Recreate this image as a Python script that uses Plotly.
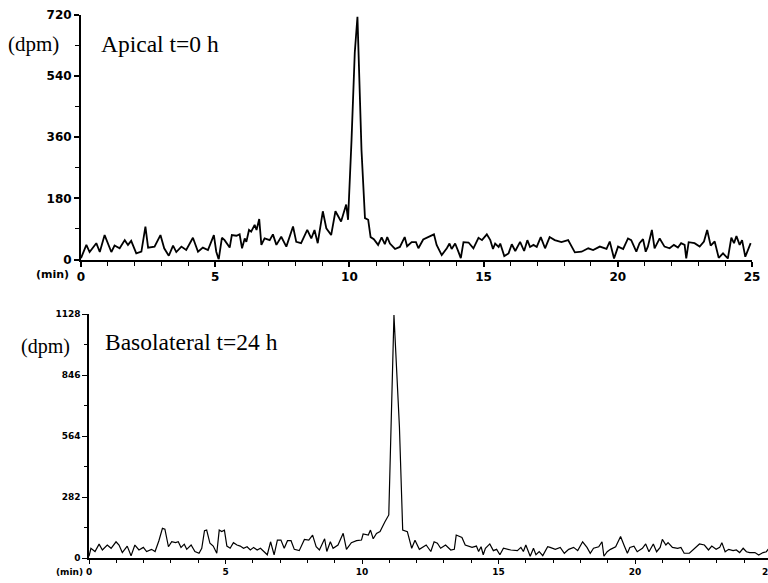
import plotly.graph_objects as go

# ---------------- data ----------------
top_time = [0.0, 0.2, 0.32, 0.57, 0.7, 0.88, 1.13, 1.25, 1.44, 1.63, 1.75, 1.87, 2.06, 2.25, 2.4, 2.5,
            2.74, 2.96, 3.1, 3.27, 3.43, 3.55, 3.74, 3.92, 4.17, 4.36, 4.54, 4.73, 4.95, 5.04, 5.13,
            5.25, 5.35, 5.54, 5.62, 5.79, 5.91, 6.0, 6.1, 6.16, 6.26, 6.34, 6.47, 6.54, 6.64, 6.72,
            6.84, 7.03, 7.15, 7.28, 7.46, 7.65, 7.9, 8.02, 8.2, 8.43, 8.58, 8.7, 8.82, 9.01, 9.14,
            9.32, 9.48, 9.69, 9.88, 9.95, 10.08, 10.2, 10.3, 10.37, 10.45, 10.58, 10.7, 10.79, 10.91,
            11.07, 11.2, 11.32, 11.41, 11.51, 11.7, 11.88, 12.06, 12.15, 12.32, 12.48, 12.57, 12.75,
            12.94, 13.15, 13.25, 13.44, 13.63, 13.73, 13.81, 13.94, 14.06, 14.15, 14.25, 14.44, 14.62,
            14.81, 14.94, 15.12, 15.25, 15.35, 15.43, 15.56, 15.62, 15.77, 15.93, 16.05, 16.18, 16.36,
            16.51, 16.63, 16.73, 16.86, 16.98, 17.13, 17.29, 17.46, 17.65, 17.9, 18.15, 18.4, 18.65,
            18.9, 19.08, 19.33, 19.58, 19.7, 19.86, 20.01, 20.2, 20.38, 20.5, 20.69, 20.81, 20.94,
            21.04, 21.12, 21.27, 21.37, 21.56, 21.74, 21.93, 22.09, 22.24, 22.36, 22.49, 22.55, 22.64,
            22.86, 23.05, 23.21, 23.33, 23.46, 23.61, 23.76, 23.92, 24.1, 24.23, 24.33, 24.42, 24.54,
            24.63, 24.75, 24.95]
top_dpm = [4, 43, 22, 48, 22, 72, 22, 41, 33, 57, 43, 55, 18, 23, 97, 35,
           38, 72, 33, 11, 41, 22, 38, 28, 64, 23, 35, 28, 72, 23, 0,
           64, 57, 35, 72, 70, 74, 33, 62, 52, 87, 82, 102, 87, 119, 43,
           62, 57, 74, 43, 67, 38, 97, 52, 48, 87, 62, 87, 48, 142, 92,
           72, 142, 112, 162, 117, 353, 609, 715, 550, 323, 122, 117, 66, 60,
           43, 65, 45, 66, 47, 31, 37, 66, 39, 51, 51, 33, 59,
           66, 74, 43, 13, 33, 47, 31, 47, 23, 4, 51, 50, 33,
           64, 57, 74, 57, 31, 47, 37, 47, 10, 18, 45, 25, 52,
           25, 57, 37, 43, 37, 66, 33, 66, 57, 51, 57, 21, 23,
           33, 28, 38, 31, 53, 3, 38, 31, 62, 57, 23, 48, 60,
           23, 38, 87, 33, 62, 38, 33, 43, 35, 48, 43, 3, 51,
           48, 38, 53, 87, 41, 53, 5, 18, 3, 64, 48, 69, 43,
           57, 8, 48]

bot_time = [0.0, 0.07, 0.22, 0.37, 0.49, 0.67, 0.81, 0.99, 1.1, 1.22, 1.4, 1.54, 1.68, 1.83, 1.99,
            2.11, 2.29, 2.42, 2.56, 2.69, 2.78, 2.91, 3.03, 3.17, 3.27, 3.37, 3.49, 3.58, 3.74, 3.88,
            4.03, 4.13, 4.23, 4.31, 4.43, 4.55, 4.68, 4.77, 4.86, 4.96, 5.05, 5.17, 5.29, 5.42, 5.54,
            5.66, 5.79, 5.91, 6.03, 6.16, 6.28, 6.41, 6.53, 6.65, 6.78, 6.9, 7.03, 7.15, 7.27, 7.4,
            7.52, 7.7, 7.89, 8.05, 8.19, 8.32, 8.44, 8.63, 8.71, 8.84, 8.94, 9.12, 9.31, 9.43, 9.61,
            9.8, 9.98, 10.04, 10.23, 10.31, 10.41, 10.53, 10.66, 10.84, 10.98, 11.17, 11.37, 11.49,
            11.66, 11.82, 11.94, 12.1, 12.35, 12.52, 12.64, 12.76, 12.88, 13.06, 13.25, 13.38, 13.45,
            13.66, 13.78, 14.03, 14.19, 14.27, 14.36, 14.44, 14.52, 14.68, 14.81, 14.93, 15.05, 15.18,
            15.45, 15.69, 15.82, 15.91, 16.0, 16.16, 16.28, 16.37, 16.49, 16.62, 16.8, 16.89, 17.08,
            17.26, 17.41, 17.57, 17.75, 17.9, 18.08, 18.24, 18.36, 18.48, 18.67, 18.79, 18.86, 18.98,
            19.1, 19.29, 19.47, 19.62, 19.72, 19.81, 19.96, 20.08, 20.27, 20.39, 20.51, 20.67, 20.79,
            20.92, 21.0, 21.13, 21.21, 21.37, 21.56, 21.68, 21.8, 21.99, 22.17, 22.36, 22.54, 22.69,
            22.81, 22.97, 23.1, 23.18, 23.3, 23.43, 23.59, 23.71, 23.83, 23.96, 24.08, 24.2, 24.39,
            24.53, 24.69, 24.81, 24.93]
bot_dpm = [8, 45, 30, 64, 37, 60, 45, 75, 60, 25, 55, 10, 60, 37, 49,
           30, 40, 30, 80, 137, 133, 52, 75, 71, 75, 49, 64, 40, 60, 30,
           22, 45, 126, 129, 68, 55, 22, 129, 122, 129, 55, 45, 71, 60, 55,
           45, 52, 37, 49, 37, 45, 30, 15, 75, 15, 83, 83, 45, 80, 80,
           40, 34, 86, 83, 106, 52, 37, 89, 30, 75, 45, 60, 114, 40, 71,
           80, 83, 111, 106, 129, 89, 114, 122, 168, 199, 1123, 607, 129,
           122, 45, 82, 40, 60, 30, 75, 68, 45, 60, 37, 40, 106,
           95, 60, 49, 55, 30, 52, 15, 45, 65, 34, 40, 15, 45,
           37, 34, 49, 30, 60, 8, 45, 15, 30, 11, 52, 49, 40,
           49, 22, 40, 49, 34, 75, 49, 22, 45, 52, 75, 8, 29,
           40, 52, 99, 52, 22, 49, 55, 29, 45, 65, 29, 65, 29,
           49, 86, 60, 71, 49, 45, 49, 22, 22, 45, 65, 60, 37,
           55, 40, 49, 71, 29, 40, 34, 37, 25, 45, 29, 25, 25,
           14, 25, 29, 49]

top_yticks = [0, 180, 360, 540, 720]
bot_yticks = [0, 282, 564, 846, 1128]
top_xticks = [0, 5, 10, 15, 20, 25]
bot_xticks = [0, 5, 10, 15, 20]

top_label = "Apical t=0 h"
bot_label = "Basolateral t=24 h"

# ---------------- layout helpers ----------------
W, H = 768, 583
def px(x):
    return x / W
def py(y):
    return 1 - y / H

tick_font_top = dict(family="DejaVu Sans", size=12, color="black", weight="bold")
tick_font_bot = dict(family="DejaVu Sans", size=9, color="black", weight="bold")
serif = "Liberation Serif"

fig = go.Figure()
fig.add_trace(go.Scatter(x=top_time, y=top_dpm, mode="lines",
                         line=dict(color="black", width=1.8), xaxis="x", yaxis="y",
                         hoverinfo="skip"))
fig.add_trace(go.Scatter(x=bot_time, y=bot_dpm, mode="lines",
                         line=dict(color="black", width=1.2), xaxis="x2", yaxis="y2",
                         hoverinfo="skip"))

common = dict(showgrid=False, zeroline=False, showline=True, linecolor="black",
              ticks="outside", tickcolor="black", fixedrange=True, automargin=False)

fig.update_layout(
    template="none",
    width=W, height=H,
    margin=dict(l=0, r=0, t=0, b=0, autoexpand=False),
    plot_bgcolor="white", paper_bgcolor="white",
    showlegend=False,
    xaxis=dict(domain=[px(81), px(752)], range=[0, 25], anchor="y",
               tickvals=top_xticks, ticklen=5, tickwidth=1.5, linewidth=2,
               tickfont=tick_font_top,
               minor=dict(tick0=0, dtick=1, ticks="outside", ticklen=4,
                          tickcolor="black", tickwidth=1), **common),
    yaxis=dict(domain=[py(259.5), py(15)], range=[0, 720], anchor="x",
               tickvals=top_yticks, ticklen=5, tickwidth=1.5, linewidth=2,
               tickfont=tick_font_top,
               minor=dict(tick0=0, dtick=90, ticks="outside", ticklen=4,
                          tickcolor="black", tickwidth=1), **common),
    xaxis2=dict(domain=[px(89), 1.0], range=[0, 24.87], anchor="y2",
                tickvals=bot_xticks, ticklen=4, tickwidth=1, linewidth=1.5,
                tickfont=tick_font_bot,
                minor=dict(tick0=0, dtick=1, ticks="outside", ticklen=3,
                           tickcolor="black", tickwidth=1), **common),
    yaxis2=dict(domain=[py(558), py(314)], range=[0, 1128], anchor="x2",
                tickvals=bot_yticks, ticklen=5, tickwidth=1, linewidth=1.5,
                tickfont=tick_font_bot,
                minor=dict(tick0=0, dtick=141, ticks="outside", ticklen=3,
                           tickcolor="black", tickwidth=1), **common),
    annotations=[
        dict(text="(min)", x=px(52), y=py(274), xref="paper", yref="paper",
             showarrow=False, xanchor="center", yanchor="middle",
             font=dict(family="DejaVu Sans", size=11, color="black", weight="bold")),
        dict(text="(min)", x=px(69), y=py(572), xref="paper", yref="paper",
             showarrow=False, xanchor="center", yanchor="middle",
             font=dict(family="DejaVu Sans", size=9, color="black", weight="bold")),
        dict(text="2", x=px(765), y=py(572), xref="paper", yref="paper",
             showarrow=False, xanchor="center", yanchor="middle",
             font=tick_font_bot),
        dict(text="(dpm)", x=px(33), y=py(44), xref="paper", yref="paper",
             showarrow=False, xanchor="center", yanchor="middle",
             font=dict(family=serif, size=21, color="black")),
        dict(text=top_label, x=px(99), y=py(44), xref="paper", yref="paper",
             showarrow=False, xanchor="left", yanchor="middle",
             font=dict(family=serif, size=23.5, color="black")),
        dict(text="(dpm)", x=px(45), y=py(346), xref="paper", yref="paper",
             showarrow=False, xanchor="center", yanchor="middle",
             font=dict(family=serif, size=20, color="black")),
        dict(text=bot_label, x=px(103), y=py(342), xref="paper", yref="paper",
             showarrow=False, xanchor="left", yanchor="middle",
             font=dict(family=serif, size=23.5, color="black")),
    ],
)

fig.write_html("out.html")
